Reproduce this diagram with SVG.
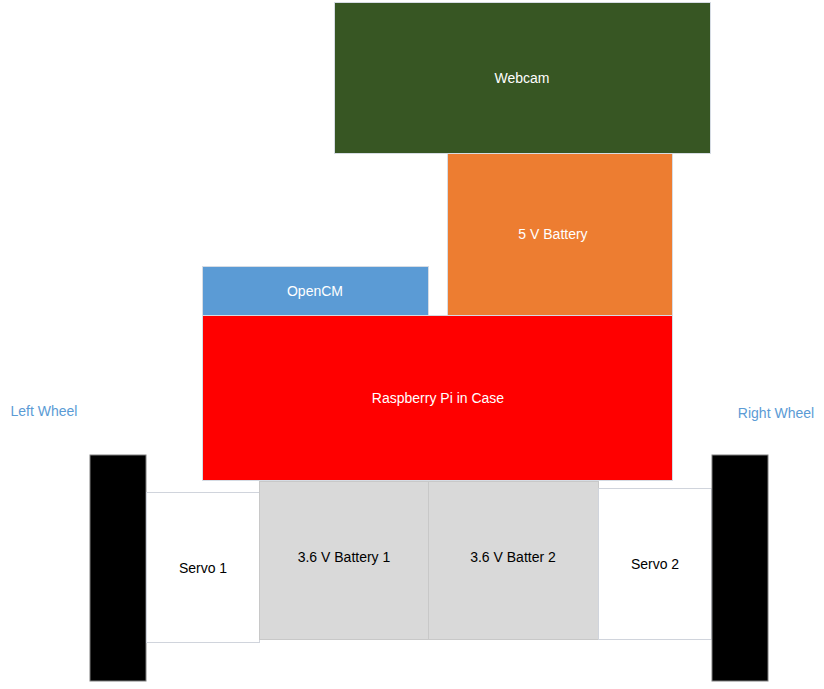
<svg xmlns="http://www.w3.org/2000/svg" width="824" height="689" viewBox="0 0 824 689">
<style>
  .box { stroke: #d6dce4; stroke-width: 1; }
  .lbl { font-family: "Liberation Sans", Arial, sans-serif; font-size: 14px; text-anchor: middle; dominant-baseline: central; }
  .w { fill: #ffffff; }
  .k { fill: #000000; }
  .side { fill: #5b9bd5; font-family: "Liberation Sans", Arial, sans-serif; font-size: 14px; text-anchor: middle; dominant-baseline: central; }
</style>
<rect width="824" height="689" fill="#ffffff"/>
<g id="webcam">
  <rect class="box" x="334.5" y="2.5" width="376" height="151" fill="#375623" stroke="#a9b8a0"/>
  <text class="lbl w" x="522" y="78">Webcam</text>
</g>
<g id="battery5v">
  <rect class="box" x="447.5" y="153.5" width="225" height="162" fill="#ed7d31" stroke="#f4b183"/>
  <text class="lbl w" x="553" y="234">5 V Battery</text>
</g>
<g id="opencm">
  <rect class="box" x="202.5" y="266.5" width="226" height="49" fill="#5b9bd5" stroke="#bdd7ee"/>
  <text class="lbl w" x="315" y="291">OpenCM</text>
</g>
<g id="raspberry">
  <rect class="box" x="202.5" y="315.5" width="470" height="165" fill="#ff0000" stroke="#ff6060"/>
  <text class="lbl w" x="438" y="398">Raspberry Pi in Case</text>
</g>
<g id="leftwheel">
  <rect x="90" y="455" width="56" height="226" fill="#000000" stroke="#7f7f7f" stroke-width="1"/>
  <text class="side" x="44" y="411">Left Wheel</text>
</g>
<g id="servo1">
  <rect x="146.5" y="492.5" width="113" height="150" fill="#ffffff" stroke="#d0d4dc" stroke-width="1"/>
  <text class="lbl k" x="203" y="568">Servo 1</text>
</g>
<g id="battery1">
  <rect x="259.5" y="481.5" width="169" height="158" fill="#d9d9d9" stroke="#c8c8c8" stroke-width="1"/>
  <text class="lbl k" x="344" y="557">3.6 V Battery 1</text>
</g>
<g id="battery2">
  <rect x="428.5" y="481.5" width="170" height="158" fill="#d9d9d9" stroke="#c8c8c8" stroke-width="1"/>
  <text class="lbl k" x="513" y="557">3.6 V Batter 2</text>
</g>
<g id="servo2">
  <rect x="598.5" y="488.5" width="113" height="151" fill="#ffffff" stroke="#d0d4dc" stroke-width="1"/>
  <text class="lbl k" x="655" y="564">Servo 2</text>
</g>
<g id="rightwheel">
  <rect x="712" y="455" width="56" height="226" fill="#000000" stroke="#7f7f7f" stroke-width="1"/>
  <text class="side" x="776" y="413">Right Wheel</text>
</g>
<g id="connectors"></g>
</svg>
